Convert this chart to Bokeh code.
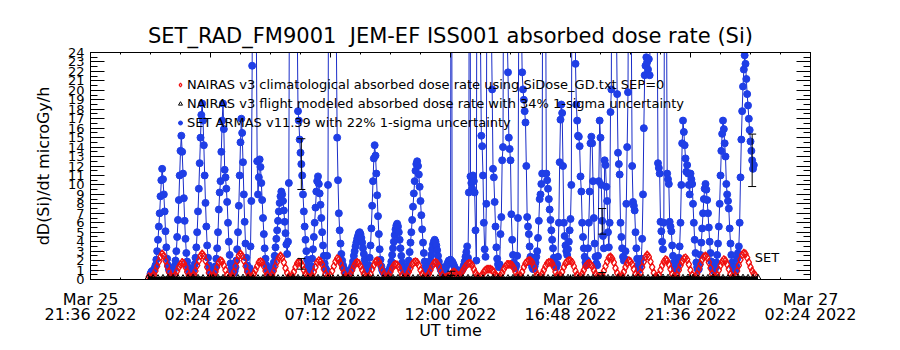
from bokeh.plotting import figure
from bokeh.models import (FixedTicker, LinearAxis, Legend, LegendItem, Range1d,
                          ColumnDataSource, Whisker, TeeHead, Label)
from bokeh.embed import file_html
from bokeh.resources import INLINE

FONT = "DejaVu Sans"

# ---------------- data (time in minutes from 2022-03-26 00:00 UT) ----------------
x_ticks = [-144, 144, 432, 720, 1008, 1296, 1584]
x_tick_labels = ["Mar 25\n21:36 2022", "Mar 26\n02:24 2022", "Mar 26\n07:12 2022",
                 "Mar 26\n12:00 2022", "Mar 26\n16:48 2022", "Mar 26\n21:36 2022",
                 "Mar 27\n02:24 2022"]
y_ticks = list(range(0, 25))

# SET ARMAS v11.39 dose rate, one value every 2 minutes starting 00:00
set_t0, set_step = 0, 2
set_dose = [
    0.6, 0.8, 0.9, 0.8, 1.0, 1.2, 1.5, 2.1, 3.0, 4.2,
    5.6, 7.0, 8.8, 10.5, 11.7, 10.6, 9.0, 7.2, 5.1, 3.4,
    2.2, 1.5, 1.1, 0.9, 0.7, 0.6, 0.7, 0.8, 1.0, 1.4,
    2.0, 3.0, 4.5, 6.3, 8.4, 11.0, 13.6, 15.2, 13.5, 11.2,
    8.6, 6.2, 4.3, 2.8, 1.9, 1.3, 1.0, 0.8, 0.7, 0.6,
    0.7, 0.9, 1.1, 1.6, 2.3, 3.4, 5.0, 7.2, 9.6, 12.3,
    15.0, 17.4, 18.6, 16.8, 14.2, 11.0, 8.1, 5.6, 3.6, 2.3,
    1.5, 1.1, 0.9, 0.7, 0.6, 0.7, 0.8, 1.0, 1.4, 2.2,
    3.3, 5.0, 7.4, 9.2, 10.4, 13.5, 16.8, 18.6, 15.9, 11.6,
    10.8, 9.6, 8.2, 6.0, 4.0, 2.6, 1.7, 1.2, 0.9, 0.8,
    0.7, 0.9, 1.3, 2.0, 3.2, 5.0, 7.8, 11.0, 14.5, 17.0,
    15.5, 12.4, 9.0, 6.1, 3.8, 2.3, 1.5, 1.0, 0.8, 1.2,
    3.5, 8.3, 22.6, 55, 70, 45, 30, 26, 12.5, 9.0,
    10.8, 12.7, 11.9, 10.2, 8.4, 6.5, 4.8, 3.3, 2.2, 1.5,
    1.1, 0.9, 0.7, 0.6, 0.7, 0.8, 1.0, 1.3, 1.8, 2.5,
    3.4, 4.3, 5.2, 6.2, 7.2, 8.1, 8.8, 9.3, 9.0, 8.3,
    7.3, 6.1, 4.9, 3.7, 2.7, 4.0, 10.2, 40, 70, 90,
    85, 70, 60, 50, 42, 35, 28, 17.8, 16.8, 14.8,
    13.4, 12.2, 11.0, 9.0, 7.2, 5.6, 4.2, 3.0, 2.1, 1.5,
    1.1, 0.9, 1.0, 1.4, 2.2, 3.2, 4.5, 6.0, 7.6, 9.3,
    10.4, 10.9, 10.1, 9.1, 7.9, 6.5, 5.0, 3.6, 2.5, 1.7,
    1.2, 1.0, 2.5, 10.0, 45, 80, 95, 90, 75, 60,
    48, 38, 30, 25.5, 15.0, 10.5, 7.0, 5.2, 3.8, 2.7,
    2.0, 1.5, 1.2, 1.0, 0.8, 0.7, 0.6, 0.6, 0.7, 0.8,
    0.9, 1.1, 1.4, 1.9, 2.5, 3.0, 3.5, 3.9, 4.3, 4.6,
    4.9, 5.0, 4.8, 4.4, 3.9, 3.3, 2.7, 2.1, 1.6, 1.2,
    1.0, 1.1, 1.5, 2.3, 3.6, 5.4, 7.8, 10.4, 12.8, 14.2,
    13.1, 11.2, 8.9, 6.7, 4.8, 3.2, 2.1, 1.4, 1.0, 0.8,
    0.7, 0.6, 0.6, 0.7, 0.7, 0.8, 0.9, 1.1, 1.4, 1.9,
    2.6, 3.3, 4.0, 4.7, 5.3, 5.7, 5.9, 5.6, 5.0, 4.2,
    3.3, 2.5, 1.8, 1.3, 1.0, 0.8, 0.7, 0.8, 1.0, 1.4,
    2.0, 2.9, 3.9, 5.0, 6.3, 7.7, 9.1, 10.4, 11.5, 12.2,
    12.5, 12.0, 11.1, 9.8, 8.3, 6.8, 5.3, 3.9, 2.8, 1.9,
    1.3, 1.0, 0.8, 0.8, 1.0, 1.4, 2.0, 2.6, 3.2, 3.7,
    4.0, 4.2, 4.0, 3.6, 3.1, 2.5, 1.9, 1.4, 1.1, 0.9,
    0.8, 0.7, 0.8, 0.9, 1.1, 1.4, 1.6, 1.8, 2.0, 2.0,
    2.1, 65, 1.9, 1.7, 1.5, 1.3, 1.1, 1.0, 0.9, 0.8,
    0.8, 0.7, 0.8, 0.9, 1.0, 1.2, 1.5, 1.9, 2.4, 2.9,
    3.5, 2.3, 9.2, 70, 10.9, 10.2, 9.6, 11.0, 10.4, 9.2,
    5.2, 2.0, 55, 40, 30, 26, 25, 15.2, 14.1, 11.0,
    6.0, 3.2, 2.4, 8.0, 50, 85, 70, 48, 35, 27,
    20.1, 11.7, 10.8, 8.2, 5.6, 3.4, 2.2, 1.6, 1.3, 1.6,
    4.8, 6.6, 12.6, 14.0, 45, 80, 60, 38, 26, 21.9,
    15.0, 13.8, 12.6, 6.9, 4.2, 2.6, 1.8, 1.4, 1.2, 1.5,
    2.5, 6.5, 30, 70, 50, 28, 21.9, 20.1, 19.0, 17.8,
    16.6, 12.0, 6.6, 5.6, 4.8, 3.5, 2.4, 1.7, 1.3, 1.1,
    1.2, 1.4, 1.8, 2.4, 3.0, 4.4, 6.2, 8.5, 9.0, 10.1,
    11.2, 48, 85, 60, 35, 11.2, 10.5, 9.6, 8.5, 7.4,
    6.3, 5.2, 4.2, 3.3, 2.3, 1.8, 1.5, 1.3, 1.6, 2.4,
    6.0, 12.4, 16.9, 18.5, 17.6, 12.0, 6.0, 4.6, 3.6, 3.0,
    2.6, 3.2, 4.0, 5.2, 6.4, 10.0, 40, 75, 90, 55,
    22.8, 18.5, 16.8, 15.2, 15.1, 14.1, 10.9, 9.3, 6.0, 4.5,
    3.3, 2.4, 1.8, 1.5, 2.0, 3.3, 6.0, 9.3, 14.4, 15.1,
    14.4, 10.4, 6.5, 3.8, 2.4, 1.7, 1.5, 2.5, 10.4, 16.8,
    15.0, 10.0, 6.2, 4.6, 3.3, 12.6, 12.1, 9.8, 8.3, 5.0,
    3.4, 6.0, 17.7, 20.1, 60, 90, 80, 50, 35, 28,
    19.6, 13.4, 12.2, 11.1, 6.0, 4.5, 3.3, 2.4, 2.0, 2.2,
    3.0, 8.0, 14.0, 19.8, 45, 70, 40, 26, 12.0, 8.2,
    7.8, 7.3, 5.0, 3.3, 2.2, 1.5, 1.0, 1.2, 1.6, 2.2,
    4.3, 9.0, 16.0, 21.6, 22.6, 23.5, 23.0, 22.2, 23.3, 21.6,
    30, 60, 75, 50, 35, 25.5, 26.0, 30, 28, 12.3,
    11.8, 11.2, 6.1, 5.1, 4.0, 3.2, 6.0, 40, 70, 35,
    11.2, 10.6, 10.1, 6.1, 5.6, 5.1, 3.6, 2.5, 1.8, 1.3,
    1.1, 1.0, 1.2, 1.6, 2.3, 3.5, 6.0, 10.0, 14.4, 16.8,
    15.6, 14.2, 12.8, 11.4, 12.1, 11.2, 10.0, 9.0, 11.2, 10.6,
    10.1, 8.0, 6.0, 4.2, 2.8, 1.8, 1.3, 1.0, 1.1, 1.6,
    2.6, 3.9, 5.4, 7.0, 8.5, 9.6, 10.1, 9.5, 8.4, 7.0,
    5.5, 4.0, 2.8, 1.9, 1.3, 1.0, 0.9, 1.0, 1.3, 1.8,
    2.6, 3.8, 5.6, 8.0, 11.0, 13.6, 15.4, 16.8, 15.9, 14.4,
    13.0, 10.1, 9.0, 8.3, 7.5, 5.4, 3.8, 2.6, 1.8, 1.3,
    1.0, 0.9, 1.0, 1.4, 2.2, 2.8, 3.5, 6.0, 10.8, 14.8,
    17.8, 20.4, 22.2, 23.7, 22.8, 21.2, 19.6, 18.4, 17.0, 15.8,
    14.6, 13.6, 12.6, 11.7, 12.1,
]

# NAIRAS v3 climatological dose rate, one value every 4 minutes starting 23:56
clim_t0, clim_step = -4, 4
nairas_clim = [
    0.3, 0.2, 0.3, 0.5, 0.9, 1.4, 1.9, 2.4, 2.7, 2.5, 2.0, 1.4,
    0.8, 0.4, 0.2, 0.3, 0.5, 0.9, 1.3, 1.6, 1.8, 1.7, 1.3, 0.8,
    0.4, 0.2, 0.3, 0.5, 0.9, 1.5, 2.0, 2.5, 2.7, 2.5, 2.0, 1.3,
    0.7, 0.3, 0.2, 0.4, 0.8, 1.3, 1.8, 2.0, 1.9, 1.5, 1.0, 0.5,
    0.2, 0.2, 0.4, 0.8, 1.4, 2.0, 2.5, 2.7, 2.5, 2.0, 1.4, 0.8,
    0.4, 0.2, 0.3, 0.6, 1.0, 1.4, 1.8, 1.9, 1.8, 1.4, 0.9, 0.5,
    0.2, 0.2, 0.5, 0.9, 1.4, 1.9, 2.3, 2.5, 2.3, 1.8, 1.2, 0.7,
    0.3, 0.2, 0.4, 0.8, 1.3, 1.7, 1.85, 1.8, 1.5, 1.0, 0.6, 0.3,
    0.2, 0.2, 0.4, 0.8, 1.3, 1.8, 2.0, 1.9, 1.6, 1.1, 0.6, 0.3,
    0.2, 0.4, 0.9, 1.4, 1.9, 2.2, 2.1, 1.7, 1.2, 0.7, 0.3, 0.2,
    0.3, 0.6, 1.0, 1.4, 1.7, 1.8, 1.7, 1.4, 1.0, 0.6, 0.3, 0.2,
    0.3, 0.6, 1.1, 1.5, 1.9, 2.0, 1.9, 1.5, 1.0, 0.6, 0.3, 0.2,
    0.4, 0.8, 1.2, 1.5, 1.6, 1.55, 1.3, 0.9, 0.5, 0.2, 0.2, 0.4,
    0.8, 1.2, 1.6, 1.8, 1.9, 1.8, 1.5, 1.0, 0.6, 0.3, 0.2, 0.3,
    0.6, 1.0, 1.4, 1.7, 1.8, 1.7, 1.4, 0.9, 0.5, 0.2, 0.2, 0.3,
    0.3, 0.5, 0.7, 0.8, 0.7, 0.5, 0.4, 0.5, 0.8, 1.1, 1.4, 1.6,
    1.7, 1.7, 1.5, 1.1, 0.7, 0.4, 0.2, 0.3, 0.5, 0.8, 1.0, 1.1,
    1.1, 1.1, 1.0, 0.8, 0.5, 0.3, 0.2, 0.4, 0.7, 1.1, 1.4, 1.6,
    1.6, 1.6, 1.5, 1.2, 0.8, 0.4, 0.2, 0.4, 0.8, 1.3, 1.7, 1.9,
    2.0, 2.0, 1.8, 1.4, 0.9, 0.5, 0.2, 0.3, 0.6, 1.0, 1.4, 1.7,
    1.8, 1.8, 1.7, 1.3, 0.8, 0.4, 0.2, 0.4, 0.8, 1.3, 1.7, 1.9,
    2.0, 2.0, 1.8, 1.4, 0.9, 0.5, 0.2, 0.3, 0.6, 1.0, 1.4, 1.6,
    1.7, 1.6, 1.4, 1.0, 0.6, 0.3, 0.2, 0.3, 0.5, 0.9, 1.4, 1.9,
    2.3, 2.4, 2.2, 1.8, 1.2, 0.7, 0.3, 0.2, 0.4, 0.8, 1.3, 1.7,
    2.0, 1.9, 1.6, 1.1, 0.6, 0.3, 0.3, 0.7, 1.3, 1.9, 2.4, 2.6,
    2.4, 1.9, 1.3, 0.7, 0.3, 0.2, 0.5, 1.0, 1.5, 1.9, 2.1, 2.0,
    1.6, 1.1, 0.6, 0.3, 0.2, 0.5, 1.0, 1.5, 1.9, 2.2, 2.3, 2.1,
    1.6, 1.0, 0.5, 0.2, 0.3, 0.6, 1.1, 1.6, 2.1, 2.4, 2.5, 2.3,
    1.8, 1.2, 0.6, 0.3, 0.2, 0.5, 1.0, 1.5, 1.9, 2.1, 2.0, 1.6,
    1.1, 0.6, 0.3, 0.2, 0.4, 0.9, 1.5, 2.1, 2.6, 2.8, 2.7, 2.3,
    1.8, 1.3, 0.9, 0.6, 0.4,
]

# NAIRAS v3 flight modeled dose rate, one value every 12 minutes starting 23:54
flight_t0, flight_step = -6, 12
nairas_flight = [
    0.12, 0.10, 0.09, 0.11, 0.13, 0.12, 0.10, 0.09, 0.11, 0.13, 0.12, 0.10,
    0.09, 0.11, 0.13, 0.12, 0.10, 0.09, 0.11, 0.14, 0.12, 0.10, 0.09, 0.11,
    0.13, 0.12, 0.10, 0.09, 0.11, 0.13, 0.12, 0.10, 0.08, 0.10, 0.12, 0.11,
    0.09, 0.08, 0.10, 0.12, 0.11, 0.09, 0.08, 0.10, 0.12, 0.11, 0.09, 0.08,
    0.10, 0.12, 0.11, 0.09, 0.08, 0.10, 0.12, 0.11, 0.09, 0.08, 0.10, 0.12,
    0.11, 0.09, 0.08, 0.10, 0.12, 0.11, 0.09, 0.08, 0.10, 0.12, 0.11, 0.09,
    0.10, 0.12, 0.13, 0.11, 0.10, 0.12, 0.14, 0.13, 0.11, 0.10, 0.12, 0.14,
    0.13, 0.11, 0.10, 0.12, 0.14, 0.13, 0.11, 0.10, 0.12, 0.14, 0.13, 0.11,
    0.10, 0.12, 0.14, 0.13, 0.11, 0.10, 0.12, 0.15, 0.13, 0.11, 0.10, 0.12,
    0.15, 0.13, 0.11, 0.10, 0.12, 0.15, 0.14, 0.12, 0.10, 0.12, 0.15, 0.14,
    0.12, 0.11, 0.13,
]

# uncertainty bars
set_err_t = [362, 1084, 1444]
set_err_v = [12.2, 6.15, 12.6]
set_err_frac = 0.22
nairas_err_t = [362, 722, 1084]
nairas_err_v = [1.65, 0.65, 0.55]
nairas_err_frac = 0.34

set_label_y = 2.3

# ---------------- figure ----------------
set_t = [set_t0 + set_step * i for i in range(len(set_dose))]
clim_t = [clim_t0 + clim_step * i for i in range(len(nairas_clim))]
flight_t = [flight_t0 + flight_step * i for i in range(len(nairas_flight))]

BLUE_L = "#1a2dc8"
BLUE_M = "#1f3ee6"
RED = "#f01010"

p = figure(width=900, height=350, output_backend="svg", toolbar_location=None,
           x_range=Range1d(-144, 1584), y_range=Range1d(0, 24),
           min_border_left=90, min_border_right=90, min_border_top=52,
           min_border_bottom=71, background_fill_color="white",
           border_fill_color="white")
p.xgrid.visible = False
p.ygrid.visible = False
p.outline_line_color = "black"
p.outline_line_alpha = 1.0

p.title.text = "SET_RAD_FM9001\u00a0 JEM-EF ISS001 absorbed dose rate (Si)"
p.title.align = "center"
p.title.text_font = FONT
p.title.text_font_size = "21px"
p.title.text_font_style = "normal"
p.title.text_color = "black"

x_minor = [x_ticks[0] + 72 * k for k in range(25)]
y_minor = [0.5 * k for k in range(49)]
x_ticker = FixedTicker(ticks=x_ticks, minor_ticks=x_minor)
y_ticker = FixedTicker(ticks=y_ticks, minor_ticks=y_minor)

xa = p.xaxis[0]
xa.ticker = x_ticker
xa.major_label_overrides = {t: lbl for t, lbl in zip(x_ticks, x_tick_labels)}
xa.major_tick_in = 5
xa.major_tick_out = 0
xa.minor_tick_in = 2
xa.minor_tick_out = 0
xa.major_label_text_font = FONT
xa.major_label_text_font_size = "16px"
xa.major_label_text_line_height = 0.8
xa.major_label_standoff = 10
xa.axis_label = "UT time"
xa.axis_label_text_font = FONT
xa.axis_label_text_font_size = "16px"
xa.axis_label_text_font_style = "normal"
xa.axis_label_standoff = -6

ya = p.yaxis[0]
ya.ticker = y_ticker
ya.major_tick_in = 14
ya.major_tick_out = 0
ya.minor_tick_in = 7
ya.minor_tick_out = 0
ya.major_label_text_font = FONT
ya.major_label_text_font_size = "13px"
ya.major_label_standoff = 6
ya.axis_label = "dD(Si)/dt microGy/h"
ya.axis_label_text_font = FONT
ya.axis_label_text_font_size = "16px"
ya.axis_label_text_font_style = "normal"
ya.axis_label_standoff = 12

for ax in (xa, ya):
    ax.axis_line_color = "black"
    ax.major_tick_line_color = "black"
    ax.minor_tick_line_color = "black"
    ax.major_label_text_color = "black"
    ax.axis_label_text_color = "black"

top = LinearAxis(ticker=x_ticker, major_tick_in=5, major_tick_out=0,
                 minor_tick_in=2, minor_tick_out=0, major_label_text_font_size="0px",
                 major_label_text_color=None, major_label_standoff=0,
                 axis_line_color="black")
p.add_layout(top, "above")
right = LinearAxis(ticker=y_ticker, major_tick_in=14, major_tick_out=0,
                   minor_tick_in=7, minor_tick_out=0, major_label_text_font_size="0px",
                   major_label_text_color=None, major_label_standoff=0,
                   axis_line_color="black")
p.add_layout(right, "right")

# series
p.line(set_t, set_dose, line_color=BLUE_L, line_width=1)
r_set = p.scatter(set_t, set_dose, marker="circle", size=7, fill_color=BLUE_M,
                  line_color=BLUE_M)
r_clim = p.scatter(clim_t, nairas_clim, marker="diamond", size=8, fill_color=None,
                   line_color=RED, line_width=1.3)
p.line(flight_t, nairas_flight, line_color="black", line_width=4)
r_flight = p.scatter(flight_t, nairas_flight, marker="triangle", size=7,
                     fill_color=None, line_color="black", line_width=1)

# error bars
set_src = ColumnDataSource(dict(
    base=set_err_t,
    lower=[v * (1 - set_err_frac) for v in set_err_v],
    upper=[v * (1 + set_err_frac) for v in set_err_v]))
nai_src = ColumnDataSource(dict(
    base=nairas_err_t,
    lower=[v * (1 - nairas_err_frac) for v in nairas_err_v],
    upper=[v * (1 + nairas_err_frac) for v in nairas_err_v]))
for src in (set_src, nai_src):
    w = Whisker(source=src, base="base", lower="lower", upper="upper",
                line_color="black", line_width=1, level="overlay",
                upper_head=TeeHead(size=8, line_color="black", line_width=1),
                lower_head=TeeHead(size=8, line_color="black", line_width=1))
    p.add_layout(w)

p.add_layout(Label(x=set_t[-1], y=set_label_y, text="SET", text_font=FONT,
                   text_font_size="13px", text_baseline="middle", x_offset=1,
                   text_color="black"))

legend = Legend(items=[
    LegendItem(label="NAIRAS v3 climatological absorbed dose rate using SiDose_GD.txt SEP=0",
               renderers=[r_clim]),
    LegendItem(label="NAIRAS v3 flight modeled absorbed dose rate with 34% 1-sigma uncertainty",
               renderers=[r_flight]),
    LegendItem(label="SET ARMAS v11.39 with 22% 1-sigma uncertainty", renderers=[r_set]),
], location=(85, 147))
legend.label_text_font = FONT
legend.label_text_font_size = "13px"
legend.label_text_color = "black"
legend.glyph_width = 10
legend.glyph_height = 19
legend.label_height = 19
legend.label_standoff = 2
legend.spacing = 0
legend.padding = 0
legend.margin = 0
legend.border_line_alpha = 0
legend.background_fill_alpha = 0
p.add_layout(legend)

open("out.html", "w").write(file_html(p, INLINE))
